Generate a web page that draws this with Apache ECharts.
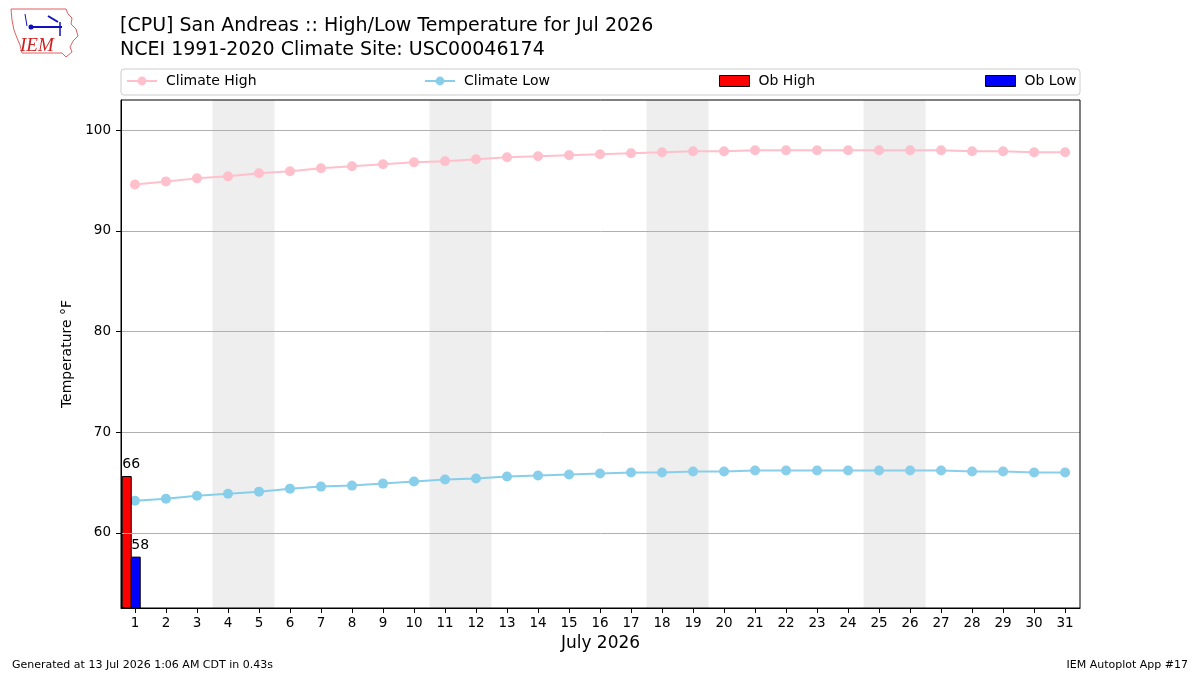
<!DOCTYPE html>
<html lang="en">
<head>
    <meta charset="UTF-8">
    <title>High/Low Temperature</title>
    <script type="text/javascript" src="https://cdn.jsdelivr.net/npm/echarts@6/dist/echarts.min.js"></script>
    <style>
        html, body {margin: 0; padding: 0; background: #fff;}
    </style>
</head>
<body>
<div id="chart1" style="width:1200px;height:675px"></div>
<script type="text/javascript">
    // 数据
    var days = [1, 2, 3, 4, 5, 6, 7, 8, 9, 10, 11, 12, 13, 14, 15, 16,
        17, 18, 19, 20, 21, 22, 23, 24, 25, 26, 27, 28, 29, 30, 31];
    var climateHigh = [94.6, 94.9, 95.2, 95.4, 95.7, 95.9, 96.2, 96.4, 96.6, 96.8, 96.9, 97.1, 97.3, 97.4, 97.5, 97.6,
        97.7, 97.8, 97.9, 97.9, 98.0, 98.0, 98.0, 98.0, 98.0, 98.0, 98.0, 97.9, 97.9, 97.8, 97.8];
    var climateLow = [63.2, 63.4, 63.7, 63.9, 64.1, 64.4, 64.6, 64.7, 64.9, 65.1, 65.3, 65.4, 65.6, 65.7, 65.8, 65.9,
        66.0, 66.0, 66.1, 66.1, 66.2, 66.2, 66.2, 66.2, 66.2, 66.2, 66.2, 66.1, 66.1, 66.0, 66.0];
    var obDays = [1];
    var obHigh = [65.6];
    var obLow = [57.6];
    var weekends = [[4, 5], [11, 12], [18, 19], [25, 26]];
    var yTicks = [60, 70, 80, 90, 100];

    var Y_MIN = 52.55, Y_MAX = 102.98;
    var FONT = 'DejaVu Sans';

    function obBar(color, x0, x1) {
        return function (params, api) {
            var x = api.value(0), y = api.value(1);
            var p0 = api.coord([x + x0, y]);
            var p1 = api.coord([x + x1, Y_MIN]);
            return {
                type: 'group',
                children: [{
                    type: 'rect',
                    shape: {x: p0[0], y: p0[1], width: p1[0] - p0[0], height: p1[1] - p0[1]},
                    style: {fill: color, stroke: '#000', lineWidth: 1}
                }, {
                    type: 'text',
                    style: {
                        text: String(Math.round(y)), x: p0[0], y: p0[1] - 5,
                        align: 'left', verticalAlign: 'bottom',
                        fontSize: 14, fontFamily: FONT, fill: '#000'
                    }
                }]
            };
        };
    }

    var myChart = echarts.init(document.getElementById('chart1'));
    var legendBase = {
        top: 74, itemWidth: 30, itemHeight: 11, itemGap: 0, padding: 0,
        textStyle: {fontFamily: FONT, fontSize: 14, color: '#000', padding: [0, 0, 0, 4]}
    };
    var option = {
        animation: false,
        backgroundColor: '#fff',
        title: [{
            text: '[CPU] San Andreas :: High/Low Temperature for Jul 2026\nNCEI 1991-2020 Climate Site: USC00046174',
            left: 120, top: 14, padding: 0,
            textStyle: {fontFamily: FONT, fontSize: 19, fontWeight: 'normal', color: '#000', lineHeight: 24}
        }],
        graphic: [
            {type: 'rect', shape: {x: 121, y: 69, width: 959, height: 26, r: 3}, style: {fill: 'none', stroke: '#cccccc', lineWidth: 1}},
            {
                type: 'polygon',
                shape: {points: [[11, 9], [66, 9], [68, 14], [72, 18], [71, 24], [76, 29], [78, 36], [73, 41], [70, 47], [72, 52], [66, 57], [62, 53], [22, 53], [20, 45], [17, 38], [14, 30], [12, 20]]},
                style: {fill: 'none', stroke: '#e06060', lineWidth: 1}
            },
            {type: 'text', style: {text: 'IEM', x: 20, y: 36, fontFamily: 'Liberation Serif', fontStyle: 'italic', fontSize: 19, fill: '#d02020'}},
            {type: 'line', shape: {x1: 30, y1: 27, x2: 62, y2: 27}, style: {stroke: '#1010c0', lineWidth: 2}},
            {type: 'circle', shape: {cx: 31, cy: 27, r: 2.5}, style: {fill: '#1010c0'}},
            {type: 'line', shape: {x1: 48, y1: 16, x2: 58, y2: 22}, style: {stroke: '#1010c0', lineWidth: 2}},
            {type: 'line', shape: {x1: 60, y1: 22, x2: 60, y2: 36}, style: {stroke: '#1010c0', lineWidth: 1.5}},
            {type: 'line', shape: {x1: 25, y1: 14, x2: 27, y2: 26}, style: {stroke: '#1010c0', lineWidth: 1}},
            {type: 'text', style: {text: 'Generated at 13 Jul 2026 1:06 AM CDT in 0.43s', x: 12, y: 665, verticalAlign: 'middle', fontFamily: FONT, fontSize: 11, fill: '#000'}},
            {type: 'text', style: {text: 'IEM Autoplot App #17', x: 1188, y: 665, align: 'right', verticalAlign: 'middle', fontFamily: FONT, fontSize: 11, fill: '#000'}}
        ],
        legend: [
            echarts.util.extend({left: 126, data: ['Climate High']}, legendBase),
            echarts.util.extend({left: 424, data: ['Climate Low']}, legendBase),
            echarts.util.extend({left: 719, data: [{name: 'Ob High', icon: 'rect', itemStyle: {color: 'red', borderColor: '#000', borderWidth: 1}}], itemWidth: 28}, legendBase),
            echarts.util.extend({left: 985, data: [{name: 'Ob Low', icon: 'rect', itemStyle: {color: 'blue', borderColor: '#000', borderWidth: 1}}], itemWidth: 28}, legendBase)
        ],
        grid: {
            left: 121, top: 100, width: 959, height: 508, z: 10,
            show: true, borderColor: '#000', borderWidth: 1, backgroundColor: 'transparent'
        },
        xAxis: {
            type: 'value', min: 0.55, max: 31.48, z: 10,
            name: 'July 2026', nameLocation: 'middle', nameGap: 27,
            nameTextStyle: {fontFamily: FONT, fontSize: 17, color: '#000'},
            axisLine: {show: true, onZero: false, lineStyle: {color: '#000'}},
            axisTick: {show: true, length: 5, lineStyle: {color: '#000'}, customValues: days},
            axisLabel: {fontFamily: FONT, fontSize: 13.5, color: '#000', margin: 8, customValues: days},
            splitLine: {show: false}
        },
        yAxis: {
            type: 'value', min: Y_MIN, max: Y_MAX, z: 10,
            name: 'Temperature °F', nameLocation: 'middle', nameGap: 39,
            nameTextStyle: {fontFamily: FONT, fontSize: 14, color: '#000'},
            axisLine: {show: true, lineStyle: {color: '#000'}},
            axisTick: {show: true, length: 5, lineStyle: {color: '#000'}, customValues: yTicks},
            axisLabel: {fontFamily: FONT, fontSize: 13.5, color: '#000', margin: 10, customValues: yTicks},
            splitLine: {show: false}
        },
        series: [
            {
                name: 'weekend', type: 'line', data: [], z: 0, silent: true,
                markArea: {
                    silent: true,
                    itemStyle: {color: '#eeeeee'},
                    data: weekends.map(function (w) {
                        return [{xAxis: w[0] - 0.5, yAxis: Y_MIN}, {xAxis: w[1] + 0.5, yAxis: Y_MAX}];
                    })
                }
            },
            {
                name: 'grid', type: 'line', data: [], z: 1, silent: true,
                markLine: {
                    silent: true, symbol: ['none', 'none'], label: {show: false},
                    lineStyle: {color: '#b0b0b0', type: 'solid', width: 1},
                    data: yTicks.map(function (v) { return {yAxis: v}; })
                }
            },
            {
                name: 'Climate High', type: 'line', z: 3,
                data: days.map(function (d, i) { return [d, climateHigh[i]]; }),
                symbol: 'circle', symbolSize: 10,
                itemStyle: {color: 'pink'}, lineStyle: {color: 'pink', width: 2}
            },
            {
                name: 'Climate Low', type: 'line', z: 3,
                data: days.map(function (d, i) { return [d, climateLow[i]]; }),
                symbol: 'circle', symbolSize: 10,
                itemStyle: {color: 'skyblue'}, lineStyle: {color: 'skyblue', width: 2}
            },
            {
                name: 'Ob High', type: 'custom', z: 4,
                itemStyle: {color: 'red'},
                renderItem: obBar('red', -0.41, -0.12),
                data: obDays.map(function (d, i) { return [d, obHigh[i]]; })
            },
            {
                name: 'Ob Low', type: 'custom', z: 4,
                itemStyle: {color: 'blue'},
                renderItem: obBar('blue', -0.12, 0.17),
                data: obDays.map(function (d, i) { return [d, obLow[i]]; })
            }
        ]
    };
    myChart.setOption(option);
</script>
</body>
</html>
